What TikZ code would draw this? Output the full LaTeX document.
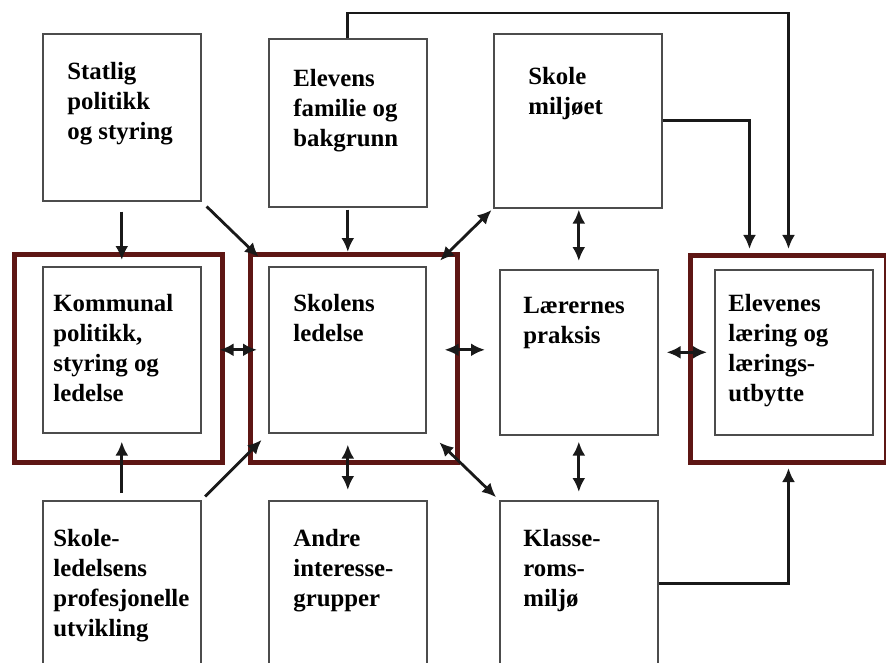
\documentclass[tikz,border=0pt]{standalone}
\usepackage{fontspec}
\setmainfont{Liberation Serif}
\usetikzlibrary{arrows.meta, positioning, calc}
\definecolor{framered}{RGB}{94,22,20}

\begin{document}
\begin{tikzpicture}[x=1pt, y=-1pt, thick, >={Latex[length=14pt,width=13pt]},
    box/.style={rectangle, draw=black!70, line width=1.6pt, fill=white, anchor=north west, minimum width=158pt, minimum height=166pt, inner sep=0pt},
    frame/.style={rectangle, draw=framered, line width=5pt, anchor=north west, minimum width=208pt, minimum height=208pt, inner sep=0pt},
    txt/.style={align=left, inner sep=0pt, text=black, font=\fontsize{24.8}{30}\selectfont\bfseries},
    arr/.style={draw=black!90, line width=2.8pt}]

    \path[use as bounding box, clip] (0,0) rectangle (886,663);
    \fill[white] (0,0) rectangle (886,663);

    % frames round the three main boxes
    \node (kommunalF) [frame] at (12,252) {};
    \node (skolensF) [frame, minimum width=207pt] at (248,252) {};
    \node (elevenesF) [frame, minimum width=196pt, minimum height=207pt] at (688,253) {};

    % top row
    \node (statlig) [box, minimum height=167pt] at (42,33) {};
    \node (familie) [box, minimum height=168pt] at (268,38) {};
    \node (miljoe) [box, minimum width=168pt, minimum height=174pt] at (493,33) {};
    % middle row
    \node (kommunal) [box] at (42,266) {};
    \node (skolens) [box, minimum width=157pt] at (268,266) {};
    \node (laerernes) [box, minimum height=165pt] at (499,269) {};
    \node (elevenes) [box, minimum height=165pt] at (714,269) {};
    % bottom row
    \node (profutv) [box] at (42,500) {};
    \node (andre) [box] at (268,500) {};
    \node (klasse) [box] at (499,500) {};

    % texts
    \node (statligT) [txt, below right=29pt and 25pt of statlig.north west] {Statlig\\politikk\\og styring};
    \node (familieT) [txt, below right=31pt and 25pt of familie.north west] {Elevens\\familie og\\bakgrunn};
    \node (miljoeT) [txt, below right=34pt and 35pt of miljoe.north west] {Skole\\miljøet};
    \node (kommunalT) [txt, below right=28pt and 11pt of kommunal.north west] {Kommunal\\politikk,\\styring og\\ledelse};
    \node (skolensT) [txt, below right=28pt and 25pt of skolens.north west] {Skolens\\ledelse};
    \node (laerernesT) [txt, below right=28pt and 24pt of laerernes.north west] {Lærernes\\praksis};
    \node (elevenesT) [txt, below right=25pt and 14pt of elevenes.north west] {Elevenes\\læring og\\lærings-\\utbytte};
    \node (profutvT) [txt, below right=29pt and 11pt of profutv.north west] {Skole-\\ledelsens\\profesjonelle\\utvikling};
    \node (andreT) [txt, below right=29pt and 25pt of andre.north west] {Andre\\interesse-\\grupper};
    \node (klasseT) [txt, below right=29pt and 24pt of klasse.north west] {Klasse-\\roms-\\miljø};

    % connectors
    \draw[arr, ->, shorten <=10pt, shorten >=6pt] (statlig.south) -- (kommunal.north);
    \draw[arr, ->, shorten <=7pt, shorten >=13pt] (statlig.south east) -- (skolens.north west);
    \draw[arr, ->, shorten <=2pt, shorten >=14pt] (familie.south) -- (skolens.north -| familie.south);
    \draw[arr, <->, shorten <=2pt, shorten >=2pt] ([xshift=12pt,yshift=4pt]skolens.north east) -- (miljoe.south west);
    \draw[arr, <->, shorten <=1pt, shorten >=8pt] (laerernes.north |- miljoe.south) -- (laerernes.north);
    \draw[arr, <->, shorten <=18pt, shorten >=11pt] (kommunal.east) -- (skolens.west);
    \draw[arr, <->, shorten <=18pt, shorten >=14pt] (skolens.east) -- (skolens.east -| laerernes.west);
    \draw[arr, <->, shorten <=8pt, shorten >=7pt] (laerernes.east) -- (elevenes.west);
    \draw[arr, ->, shorten <=7pt, shorten >=8pt] (profutv.north) -- (kommunal.south);
    \draw[arr, ->, shorten <=5pt, shorten >=9pt] (profutv.north east) -- (skolens.south west);
    \draw[arr, <->, shorten <=10pt, shorten >=11pt] (andre.north) -- (skolens.south -| andre.north);
    \draw[arr, <->, shorten <=1pt, shorten >=4pt] ([xshift=12pt,yshift=-8pt]skolens.south east) -- (klasse.north west);
    \draw[arr, <->, shorten <=6pt, shorten >=8pt] (laerernes.south) -- (klasse.north);
    \draw[arr, ->, shorten >=4pt] (familie.north) -- ++(0,-25) -| (elevenesF.north);
    \draw[arr, ->, shorten >=4pt] (miljoe.east) -| ($(elevenesF.north)+(-39,0)$);
    \draw[arr, ->, shorten >=3pt] (klasse.east) -| (elevenesF.south);
\end{tikzpicture}
\end{document}
